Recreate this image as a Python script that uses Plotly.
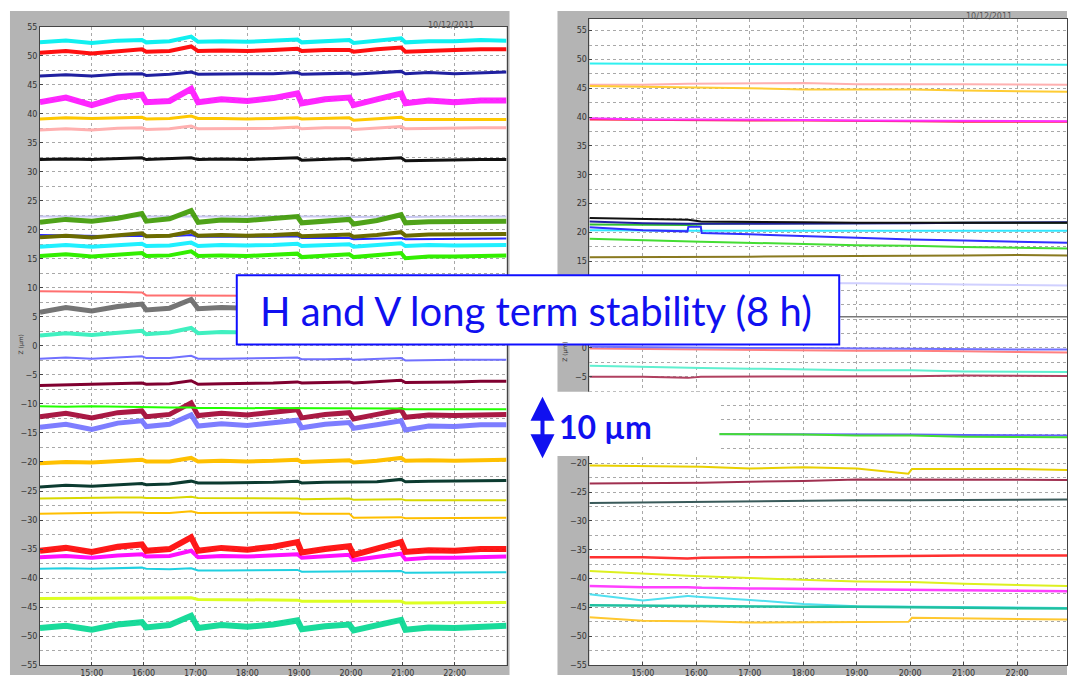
import plotly.graph_objects as go

DAY = "2011-12-10 "
W, H = 1068, 680

# ---------------- data ----------------
LEFT_TIMES = ["14:00", "14:30", "15:00", "15:30", "15:58", "16:03", "16:30", "16:55",
              "17:03", "17:30", "18:00", "18:30", "18:58", "19:03", "19:30", "19:58",
              "20:03", "20:30", "20:58", "21:03", "21:30", "22:00", "22:30", "23:00"]
RIGHT_TIMES = ["14:00", "15:00", "15:50", "15:51", "16:05", "16:06", "17:00", "18:00",
               "19:00", "19:58", "20:02", "21:00", "22:00", "23:00"]
X_TICK_LABELS = ["15:00", "16:00", "17:00", "18:00", "19:00", "20:00", "21:00", "22:00"]
Y_TICKS_LEFT = list(range(-55, 60, 5))
# labels of the right panel that stay visible (10, 5, -10, -15 lie under the overlays)
Y_TICKS_RIGHT = [v for v in range(-55, 60, 5) if v not in (10, 5, -10, -15)]
DATE_LABEL = "10/12/2011"

# left panel (vertical, 8 h)
L_CYAN = [52.3, 52.6, 52.2, 52.6, 52.7, 52.3, 52.5, 53.3, 52.4, 52.5, 52.4, 52.6, 52.8, 52.3, 52.5, 52.7, 52.2, 52.6, 53.0, 52.3, 52.5, 52.5, 52.7, 52.6]
L_RED = [50.5, 50.8, 50.4, 50.8, 51.1, 50.7, 50.8, 51.6, 50.8, 50.9, 50.8, 51.0, 51.2, 50.8, 51.0, 51.0, 50.7, 51.1, 51.4, 50.7, 50.9, 51.0, 51.1, 51.1]
L_NAVY = [46.5, 46.7, 46.5, 46.8, 46.9, 46.6, 46.8, 47.2, 46.8, 46.9, 46.9, 46.9, 47.1, 46.8, 46.9, 47.0, 46.8, 47.0, 47.3, 46.9, 47.1, 46.9, 47.0, 47.2]
L_MAGENTA = [42.0, 42.8, 41.5, 42.8, 43.3, 42.0, 42.2, 44.3, 42.0, 42.5, 42.2, 42.7, 43.5, 41.8, 42.5, 42.8, 41.5, 42.5, 43.5, 41.8, 42.3, 42.0, 42.3, 42.3]
L_GOLD = [39.1, 39.3, 39.2, 39.3, 39.4, 39.1, 39.2, 39.6, 39.2, 39.2, 39.1, 39.2, 39.3, 39.1, 39.2, 39.3, 38.9, 39.2, 39.4, 39.0, 39.0, 39.0, 39.1, 39.0]
L_PINK = [37.2, 37.4, 37.2, 37.5, 37.6, 37.3, 37.4, 37.9, 37.4, 37.4, 37.5, 37.5, 37.7, 37.4, 37.6, 37.6, 37.3, 37.5, 37.8, 37.4, 37.5, 37.5, 37.6, 37.6]
L_BLACK = [32.1, 32.2, 32.1, 32.3, 32.4, 32.1, 32.2, 32.4, 32.1, 32.2, 32.1, 32.3, 32.4, 32.0, 32.1, 32.3, 32.0, 32.2, 32.4, 31.9, 32.0, 32.1, 32.1, 32.1]
L_LAVENDER = [22.3, 22.3, 22.3, 22.3, 22.4, 22.3, 22.3, 22.4, 22.3, 22.3, 22.3, 22.3, 22.3, 22.3, 22.3, 22.3, 22.2, 22.3, 22.3, 22.2, 22.3, 22.3, 22.3, 22.3]
L_GREEN = [21.3, 21.8, 21.5, 22.0, 22.8, 21.5, 21.9, 23.3, 21.3, 21.7, 21.6, 21.9, 22.3, 21.2, 21.6, 21.8, 21.0, 21.6, 22.6, 21.2, 21.4, 21.5, 21.6, 21.5]
L_OLIVE = [18.7, 19.0, 18.7, 19.0, 19.4, 18.9, 19.0, 19.7, 19.0, 19.1, 19.0, 19.1, 19.3, 18.9, 19.0, 19.2, 18.8, 19.1, 19.6, 19.0, 19.2, 19.2, 19.3, 19.3]
L_BLUE = [19.1, 19.0, 18.9, 18.9, 19.0, 18.9, 18.9, 19.1, 18.8, 18.8, 18.7, 18.8, 18.9, 18.6, 18.6, 18.6, 18.4, 18.5, 18.6, 18.4, 18.4, 18.4, 18.5, 18.5]
L_CYAN2 = [17.1, 17.4, 17.1, 17.4, 17.6, 17.2, 17.3, 17.8, 17.2, 17.4, 17.3, 17.4, 17.6, 17.2, 17.4, 17.5, 17.1, 17.4, 17.7, 17.2, 17.4, 17.3, 17.4, 17.4]
L_LIME = [15.5, 15.8, 15.4, 15.8, 16.0, 15.5, 15.6, 16.3, 15.5, 15.6, 15.5, 15.7, 15.9, 15.3, 15.6, 15.8, 15.3, 15.6, 16.0, 15.1, 15.4, 15.4, 15.5, 15.6]
L_SALMON = [9.4, 9.4, 9.3, 9.3, 9.2, 8.7, 8.7, 8.7, 8.6, 8.6, 8.6, 8.6, 8.6, 8.5, 8.5, 8.5, 8.5, 8.5, 8.5, 8.4, 8.4, 8.4, 8.4, 8.4]
L_GRAY = [5.8, 6.6, 6.0, 6.8, 7.2, 6.2, 6.5, 8.0, 6.4, 6.6, 6.5, 6.7, 7.0, 6.2, 6.5, 6.6, 6.1, 6.5, 7.2, 6.2, 6.4, 6.4, 6.5, 6.5]
L_AQUA = [1.8, 2.2, 1.9, 2.3, 2.6, 2.0, 2.3, 3.1, 2.2, 2.4, 2.3, 2.4, 2.6, 2.1, 2.3, 2.4, 2.0, 2.3, 2.7, 2.1, 2.2, 2.2, 2.3, 2.3]
L_PERI = [-2.2, -2.0, -2.2, -2.0, -1.8, -2.1, -2.1, -1.7, -2.2, -2.2, -2.2, -2.1, -2.0, -2.3, -2.3, -2.2, -2.4, -2.3, -2.1, -2.5, -2.4, -2.4, -2.4, -2.4]
L_MAROON = [-6.8, -6.7, -6.7, -6.6, -6.4, -6.6, -6.5, -6.0, -6.6, -6.5, -6.5, -6.4, -6.2, -6.4, -6.3, -6.2, -6.4, -6.2, -5.9, -6.3, -6.3, -6.2, -6.1, -6.1]
L_LIME2 = [-10.4, -10.5, -10.4, -10.5, -10.5, -10.6, -10.6, -10.6, -10.7, -10.7, -10.7, -10.7, -10.7, -10.8, -10.8, -10.8, -10.8, -10.8, -10.8, -10.9, -10.9, -10.9, -10.9, -10.9]
L_CRIMSON = [-12.2, -11.6, -12.4, -11.5, -11.2, -12.2, -11.8, -9.8, -12.0, -11.6, -11.9, -11.5, -11.0, -12.4, -11.8, -11.5, -12.6, -11.8, -11.0, -12.3, -11.9, -12.0, -11.8, -11.8]
L_PERI2 = [-14.0, -13.5, -14.4, -13.3, -12.9, -13.9, -13.5, -11.9, -13.8, -13.4, -13.7, -13.3, -12.8, -14.1, -13.5, -13.2, -14.2, -13.6, -12.9, -14.5, -13.8, -13.9, -13.6, -13.6]
L_GOLD2 = [-20.2, -20.0, -20.1, -19.8, -19.6, -19.9, -19.9, -19.3, -19.9, -19.8, -19.9, -19.8, -19.6, -20.0, -19.8, -19.7, -20.1, -19.8, -19.3, -19.8, -19.7, -19.8, -19.7, -19.6]
L_DKGREEN = [-24.3, -24.0, -24.2, -23.9, -23.7, -23.9, -23.8, -23.3, -23.6, -23.6, -23.6, -23.5, -23.3, -23.6, -23.5, -23.4, -23.5, -23.4, -23.0, -23.4, -23.3, -23.3, -23.2, -23.2]
L_YOLIVE = [-26.3, -26.2, -26.2, -26.1, -26.1, -26.2, -26.2, -26.0, -26.2, -26.2, -26.3, -26.3, -26.3, -26.4, -26.4, -26.3, -26.5, -26.5, -26.4, -26.6, -26.6, -26.6, -26.7, -26.6]
L_ORANGE = [-28.9, -28.8, -28.8, -28.7, -28.7, -28.8, -28.8, -28.5, -28.8, -28.8, -28.8, -28.8, -28.7, -28.9, -28.9, -28.9, -29.6, -29.6, -29.5, -29.7, -29.7, -29.7, -29.7, -29.6]
L_RED2 = [-35.3, -34.8, -35.5, -34.6, -34.2, -35.3, -35.0, -33.0, -35.3, -34.8, -35.1, -34.6, -33.8, -35.6, -35.0, -34.5, -36.0, -34.8, -33.8, -35.5, -35.2, -35.3, -35.0, -35.0]
L_MAGENTA2 = [-36.4, -36.2, -36.5, -36.1, -35.9, -36.3, -36.2, -35.3, -36.4, -36.2, -36.3, -36.1, -35.9, -36.5, -36.3, -36.0, -36.9, -36.3, -35.8, -36.8, -36.5, -36.5, -36.4, -36.3]
L_TURQ = [-38.4, -38.3, -38.4, -38.3, -38.2, -38.4, -38.5, -38.3, -38.7, -38.7, -38.7, -38.7, -38.6, -38.9, -38.9, -38.8, -38.9, -38.9, -38.8, -39.1, -39.1, -39.1, -39.1, -39.0]
L_YGREEN = [-43.5, -43.5, -43.5, -43.4, -43.4, -43.5, -43.5, -43.4, -43.7, -43.7, -43.8, -43.8, -43.8, -44.0, -44.0, -44.0, -44.1, -44.1, -44.0, -44.3, -44.3, -44.3, -44.3, -44.2]
L_SPRING = [-48.6, -48.2, -48.9, -48.0, -47.6, -48.5, -48.1, -46.5, -48.6, -48.1, -48.4, -48.0, -47.3, -48.8, -48.3, -48.0, -49.0, -48.2, -47.2, -48.9, -48.5, -48.6, -48.3, -48.2]

# right panel (horizontal, 8 h)
R_CYAN = [49.3, 49.2, 49.2, 49.2, 49.2, 49.2, 49.2, 49.2, 49.2, 49.2, 49.2, 49.2, 49.1, 49.1]
R_PINK = [45.6, 45.6, 45.8, 45.8, 45.8, 45.8, 45.9, 45.9, 45.7, 45.6, 45.7, 45.7, 45.7, 45.6]
R_GOLD = [45.4, 45.3, 45.1, 45.1, 45.1, 45.1, 45.0, 44.8, 44.8, 44.8, 44.8, 44.6, 44.5, 44.4]
R_RED = [39.6, 39.5, 39.5, 39.5, 39.5, 39.5, 39.4, 39.4, 39.4, 39.3, 39.3, 39.2, 39.2, 39.2]
R_MAGENTA = [39.8, 39.6, 39.6, 39.6, 39.5, 39.5, 39.5, 39.5, 39.4, 39.4, 39.4, 39.3, 39.3, 39.3]
R_BLACK = [22.5, 22.3, 22.2, 22.2, 21.9, 21.9, 21.8, 21.8, 21.7, 21.7, 21.7, 21.7, 21.7, 21.7]
R_NAVY = [21.9, 21.6, 21.5, 21.5, 21.5, 21.5, 21.6, 21.6, 21.6, 21.6, 21.6, 21.7, 21.7, 21.8]
R_GREEN = [21.4, 21.3, 21.3, 21.3, 21.4, 21.5, 21.6, 21.6, 21.6, 21.7, 21.7, 21.7, 21.7, 21.7]
R_BLUE = [20.9, 20.4, 20.2, 21.0, 21.0, 19.9, 19.7, 19.4, 19.0, 18.8, 18.8, 18.6, 18.4, 18.2]
R_CYAN2 = [20.4, 20.3, 20.3, 20.3, 20.3, 20.3, 20.3, 20.3, 20.2, 20.2, 20.2, 20.2, 20.3, 20.3]
R_GREEN2 = [18.9, 18.6, 18.4, 18.4, 18.4, 18.4, 18.2, 17.9, 17.8, 17.7, 17.7, 17.5, 17.3, 17.2]
R_OLIVE = [15.7, 15.7, 15.7, 15.7, 15.7, 15.7, 15.8, 15.9, 15.9, 15.9, 15.9, 16.0, 16.1, 16.0]
R_LAVENDER = [11.3, 11.3, 11.3, 11.3, 11.3, 11.3, 11.2, 11.2, 11.2, 11.1, 11.1, 11.0, 10.9, 10.8]
R_GRAY = [5.4, 5.4, 5.4, 5.4, 5.4, 5.4, 5.4, 5.4, 5.4, 5.4, 5.4, 5.4, 5.4, 5.4]
R_BLUE0 = [0.2, 0.1, 0.1, 0.1, 0.1, 0.1, 0.0, 0.0, -0.1, -0.1, -0.1, -0.2, -0.3, -0.3]
R_RED0 = [-0.1, -0.2, -0.3, -0.3, -0.3, -0.3, -0.4, -0.4, -0.5, -0.5, -0.5, -0.6, -0.7, -0.8]
R_AQUA = [-3.1, -3.3, -3.5, -3.5, -3.5, -3.5, -3.6, -3.8, -3.9, -3.9, -3.9, -4.1, -4.2, -4.2]
R_ROSE = [-5.0, -5.0, -5.2, -5.2, -5.0, -5.0, -5.0, -5.0, -4.9, -4.9, -4.9, -4.8, -4.9, -4.9]
R_BLUE15 = [-14.9, -14.9, -14.9, -14.9, -14.9, -14.9, -15.0, -15.0, -15.0, -15.0, -15.0, -15.1, -15.1, -15.2]
R_GREEN15 = [-14.9, -14.9, -14.9, -14.9, -14.9, -14.9, -15.0, -15.0, -15.2, -15.2, -15.2, -15.4, -15.5, -15.5]
R_YELLOW = [-20.4, -20.5, -20.6, -20.6, -20.6, -20.6, -20.9, -20.7, -20.9, -21.8, -21.0, -21.0, -21.0, -21.2]
R_ROSE2 = [-23.5, -23.5, -23.5, -23.5, -23.4, -23.4, -23.2, -23.1, -22.8, -22.8, -22.8, -22.9, -22.9, -22.9]
R_SLATE = [-26.9, -26.8, -26.7, -26.7, -26.6, -26.6, -26.6, -26.5, -26.4, -26.4, -26.4, -26.4, -26.4, -26.3]
R_RED36 = [-36.3, -36.3, -36.5, -36.5, -36.4, -36.4, -36.3, -36.2, -36.2, -36.1, -36.1, -36.0, -36.0, -36.0]
R_YGREEN = [-38.7, -39.2, -39.5, -39.5, -39.6, -39.6, -39.9, -40.2, -40.5, -40.6, -40.6, -40.9, -41.1, -41.3]
R_MAGENTA2 = [-41.3, -41.5, -41.5, -41.5, -41.6, -41.6, -41.7, -41.8, -41.9, -42.0, -42.0, -42.1, -42.2, -42.2]
R_LTCYAN = [-42.7, -43.8, -43.0, -43.0, -43.2, -43.2, -43.7, -44.4, -44.8, -44.9, -44.9, -45.0, -45.1, -45.1]
R_TEAL = [-44.6, -44.7, -44.8, -44.8, -44.8, -44.8, -44.9, -44.9, -44.9, -45.0, -45.0, -45.1, -45.2, -45.2]
R_GOLD47 = [-46.7, -47.3, -47.4, -47.4, -47.4, -47.4, -47.6, -47.6, -47.5, -47.5, -46.8, -46.9, -47.0, -47.1]

# ---------------- styles ----------------
LEFT_SERIES = [
    (L_LAVENDER, "#c8c8f0", 2), (L_CYAN, "#10f0f0", 4), (L_RED, "#ff1010", 4),
    (L_NAVY, "#2020a0", 3), (L_MAGENTA, "#ff10ff", 6), (L_GOLD, "#ffc800", 3),
    (L_PINK, "#ffb0b0", 3), (L_BLACK, "#111111", 3), (L_GREEN, "#3c9a00", 5),
    (L_BLUE, "#2a2aff", 2), (L_OLIVE, "#6b6b00", 4), (L_CYAN2, "#20f0ff", 4),
    (L_LIME, "#33ee00", 4), (L_SALMON, "#ff7070", 2), (L_GRAY, "#666666", 5),
    (L_AQUA, "#40f0c0", 4), (L_PERI, "#7070ff", 2), (L_MAROON, "#800030", 3),
    (L_PERI2, "#7070ff", 5), (L_CRIMSON, "#a00030", 5), (L_LIME2, "#22ff00", 2),
    (L_GOLD2, "#ffc000", 4), (L_DKGREEN, "#0c3b30", 3), (L_YOLIVE, "#d8d800", 2),
    (L_ORANGE, "#ffbf00", 2), (L_MAGENTA2, "#ff10ff", 4), (L_RED2, "#ff0000", 6),
    (L_TURQ, "#20d0e0", 2), (L_YGREEN, "#ddff22", 3), (L_SPRING, "#00d890", 6),
]
RIGHT_SERIES = [
    (R_CYAN, "#30f0f0", 2), (R_PINK, "#ffb0b0", 2), (R_GOLD, "#ffcc33", 2),
    (R_RED, "#ff2040", 2), (R_MAGENTA, "#ff30ff", 2), (R_LAVENDER, "#d0d0ff", 2),
    (R_GRAY, "#777777", 1.5), (R_OLIVE, "#8a7a20", 2), (R_GREEN2, "#44dd33", 2),
    (R_CYAN2, "#30e8ff", 2), (R_BLUE, "#3030ff", 2), (R_GREEN, "#30c030", 2),
    (R_NAVY, "#2020a0", 2), (R_BLACK, "#111111", 2), (R_RED0, "#ff8080", 2),
    (R_BLUE0, "#7070ff", 2), (R_AQUA, "#60f0d0", 2), (R_ROSE, "#b04060", 2),
    (R_BLUE15, "#6060ff", 2), (R_GREEN15, "#44dd33", 2), (R_YELLOW, "#e8d000", 2),
    (R_ROSE2, "#a03050", 2), (R_SLATE, "#3a5a5a", 2), (R_RED36, "#ff3030", 2.5),
    (R_YGREEN, "#ddf020", 2), (R_MAGENTA2, "#ff40ff", 2.5), (R_LTCYAN, "#50e0f0", 2),
    (R_TEAL, "#20c0a0", 2.5), (R_GOLD47, "#ffc830", 2),
]

fig = go.Figure()
lx = [DAY + t for t in LEFT_TIMES]
rx = [DAY + t for t in RIGHT_TIMES]
for vals, col, w in LEFT_SERIES:
    fig.add_trace(go.Scatter(x=lx, y=vals, mode="lines", line=dict(color=col, width=w),
                             opacity=0.9 if w >= 5 else 1.0,
                             xaxis="x", yaxis="y", showlegend=False, hoverinfo="skip"))
for vals, col, w in RIGHT_SERIES:
    fig.add_trace(go.Scatter(x=rx, y=vals, mode="lines", line=dict(color=col, width=w),
                             xaxis="x2", yaxis="y2", showlegend=False, hoverinfo="skip"))

def px(v):
    return v / W

def py(v):
    return 1 - v / H

tickvals = [DAY + t for t in X_TICK_LABELS]
GRID = "#a8a8a8"
tickfont = dict(family="DejaVu Sans", size=8, color="#333333")

def xaxis_style(domain, rng, anchor):
    return dict(domain=domain, type="date", range=rng, tickvals=tickvals, ticktext=X_TICK_LABELS,
                anchor=anchor,
                showgrid=True, gridcolor=GRID, griddash="dot", gridwidth=1,
                showline=True, linecolor="#444444", linewidth=1, mirror=True,
                ticks="inside", ticklen=3, tickcolor="#444444", tickfont=tickfont,
                zeroline=False, fixedrange=True)

def yaxis_style(domain, rng, anchor, ticks):
    return dict(domain=domain, range=rng, anchor=anchor, tickmode="array", tickvals=ticks,
                showgrid=True, gridcolor=GRID, griddash="dot", gridwidth=1,
                minor=dict(dtick=2.5, tick0=0, showgrid=True, gridcolor=GRID, griddash="dot", ticks=""),
                showline=True, linecolor="#444444", linewidth=1, mirror=True,
                ticks="inside", ticklen=3, tickcolor="#444444", tickfont=tickfont,
                zeroline=False, fixedrange=True)

fig.update_layout(
    width=W, height=H, autosize=False,
    margin=dict(l=0, r=0, t=0, b=0),
    paper_bgcolor="white", plot_bgcolor="white",
    xaxis=xaxis_style([px(40), px(507)], [DAY + "14:00", DAY + "23:00"], "y"),
    yaxis=yaxis_style([py(670), py(23)], [-55, 55], "x", Y_TICKS_LEFT),
    xaxis2=xaxis_style([px(590), 1.0], [DAY + "14:00", DAY + "22:56"], "y2"),
    yaxis2=yaxis_style([py(670), py(15)], [-55, 57.05], "x2", Y_TICKS_RIGHT),
)

GRAYBG = "#b4b4b4"
shapes = [
    dict(type="rect", xref="paper", yref="paper", x0=px(10), x1=px(510), y0=0, y1=py(7),
         fillcolor=GRAYBG, line=dict(width=0), layer="below"),
    dict(type="rect", xref="paper", yref="paper", x0=px(558), x1=1.0, y0=0, y1=py(7),
         fillcolor=GRAYBG, line=dict(width=0), layer="below"),
    dict(type="rect", xref="paper", yref="paper", x0=px(40), x1=px(507), y0=py(670), y1=py(23),
         fillcolor="white", line=dict(width=0), layer="below"),
    dict(type="rect", xref="paper", yref="paper", x0=px(590), x1=1.0, y0=py(670), y1=py(15),
         fillcolor="white", line=dict(width=0), layer="below"),
    # white patch behind the 10 um scale marker
    dict(type="rect", xref="paper", yref="paper", x0=px(527), x1=px(720), y0=py(458), y1=py(393),
         fillcolor="white", line=dict(width=0), layer="above"),
    # title box
    dict(type="rect", xref="paper", yref="paper", x0=px(237), x1=px(840), y0=py(345), y1=py(275),
         fillcolor="white", line=dict(color="#1010ff", width=2), layer="above"),
]
fig.update_layout(shapes=shapes)

ann = [
    dict(x=px(451), y=py(15), xref="paper", yref="paper", text=DATE_LABEL, showarrow=False,
         font=dict(family="DejaVu Sans", size=8, color="#555555")),
    dict(x=px(1015), y=py(6), xref="paper", yref="paper", text=DATE_LABEL, showarrow=False,
         font=dict(family="DejaVu Sans", size=8, color="#555555")),
    dict(x=px(15), y=py(345), xref="paper", yref="paper", text="Z (µm)", showarrow=False, textangle=-90,
         font=dict(family="DejaVu Sans", size=6, color="#333333")),
    dict(x=px(566), y=py(352), xref="paper", yref="paper", text="Z (µm)", showarrow=False, textangle=-90,
         font=dict(family="DejaVu Sans", size=6, color="#333333")),
    dict(x=px(537), y=py(311), xref="paper", yref="paper", text="H and V long term stability (8 h)",
         showarrow=False, font=dict(family="Lato", size=40, color="#1010f0")),
    dict(x=px(558), y=py(428), xref="paper", yref="paper", text="<b>10 µm</b>", xanchor="left",
         showarrow=False, font=dict(family="Lato", size=32, color="#1010f0")),
    dict(x=px(543), y=py(398), xref="paper", yref="paper", text="", showarrow=True,
         ax=0, ay=63, axref="pixel", ayref="pixel", arrowside="end+start",
         arrowhead=2, arrowsize=1.2, arrowwidth=4, arrowcolor="#1010f0"),
]
fig.update_layout(annotations=ann)

fig.write_html("out.html", config={"displayModeBar": False},
               post_script="document.body.style.margin='0px';document.body.style.overflow='hidden';")
